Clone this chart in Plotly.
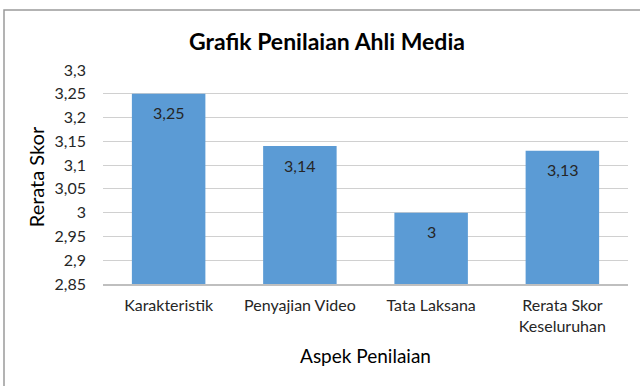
import plotly.graph_objects as go

categories = ["Karakteristik", "Penyajian Video", "Tata Laksana", "Rerata Skor<br>Keseluruhan"]
values = [3.25, 3.14, 3.0, 3.13]
labels = ["3,25", "3,14", "3", "3,13"]
ytick_vals = [2.85, 2.9, 2.95, 3.0, 3.05, 3.1, 3.15, 3.2, 3.25, 3.3]
ytick_text = ["2,85", "2,9", "2,95", "3", "3,05", "3,1", "3,15", "3,2", "3,25", "3,3"]

W, H = 640, 386
ml, mr, mt, mb = 103, 12, 70, 102
pw, ph = W - ml - mr, H - mt - mb
FONT = "Lato, Open Sans, sans-serif"

fig = go.Figure(go.Bar(
    x=categories, y=values,
    marker=dict(color="#5b9bd5", line=dict(width=0)),
    hoverinfo="skip",
))

annotations = [dict(x=c, y=v, text=t, showarrow=False, yshift=-19, yanchor="middle",
                    font=dict(size=16, color="#262626", family=FONT))
               for c, v, t in zip(categories, values, labels)]

fig.update_layout(
    width=W, height=H,
    margin=dict(l=ml, r=mr, t=mt, b=mb),
    paper_bgcolor="white", plot_bgcolor="white",
    bargap=0.44,
    showlegend=False,
    font=dict(family=FONT, color="#262626"),
    title=dict(text="<b>Grafik Penilaian Ahli Media</b>", x=(327 - ml) / pw, xanchor="center",
               y=1 - 42 / H, yanchor="middle", xref="paper",
               font=dict(size=23, color="#000000", family=FONT)),
    xaxis=dict(
        showgrid=False, showline=True, linecolor="#bfbfbf", linewidth=1.5,
        ticks="", ticklabelstandoff=6, tickfont=dict(size=16, color="#262626"),
        title=dict(text="Aspek Penilaian", font=dict(size=19, color="#000000"), standoff=16),
    ),
    yaxis=dict(
        range=[2.85, 3.3], tickvals=ytick_vals, ticktext=ytick_text,
        showgrid=True, gridcolor="#d0d0d0", gridwidth=1, zeroline=False,
        showline=False, ticks="", ticklabelstandoff=16,
        tickfont=dict(size=16, color="#262626"),
        title=dict(text="Rerata Skor", font=dict(size=20, color="#000000"), standoff=4),
    ),
    annotations=annotations,
    shapes=[dict(
        type="rect", xref="paper", yref="paper",
        x0=(4 - ml) / pw, x1=(W + 20 - ml) / pw,
        y0=-(H + 20 - mt - ph) / ph, y1=1 + (mt - 10) / ph,
        line=dict(color="#9a9a9a", width=1.5), fillcolor="rgba(0,0,0,0)", layer="below",
    )],
)

fig.write_html("out.html")
